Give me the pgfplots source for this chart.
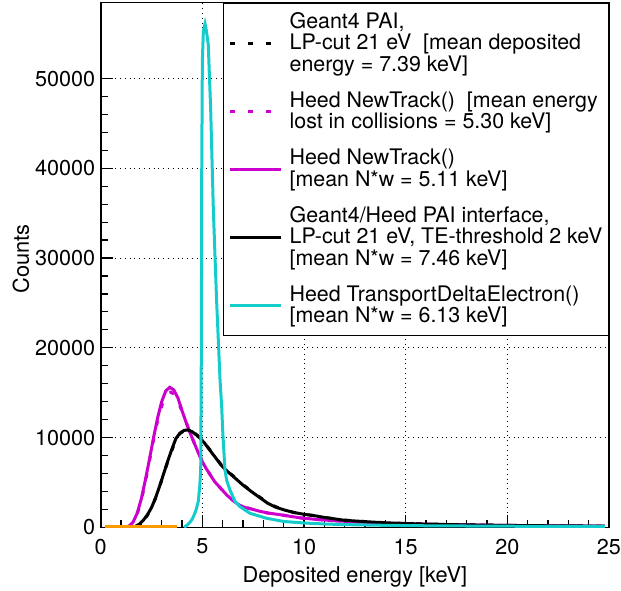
\documentclass[border=0pt]{standalone}
\usepackage{pgfplots}
\pgfplotsset{compat=1.18}
\usepackage{fontspec}
\setmainfont{TeX Gyre Heros}
\definecolor{mag}{RGB}{204,0,204}
\definecolor{cyn}{RGB}{20,204,204}
\definecolor{org}{RGB}{255,153,0}
\begin{document}
\fontsize{10.6}{11}\selectfont
\begin{tikzpicture}
\begin{axis}[
  scale only axis,
  width=254.15pt, height=262.3pt,
  xmin=0, xmax=25, ymin=0, ymax=58450,
  xtick={0,5,10,15,20,25},
  minor x tick num=4,
  ytick={0,10000,20000,30000,40000,50000},
  minor y tick num=4,
  tick align=inside,
  tick pos=left,
  major tick length=6pt,
  minor tick length=3.5pt,
  every tick/.style={black, line width=0.6pt},
  axis line style={line width=0.8pt},
  grid=major,
  major grid style={black, dotted, line width=0.5pt},
  /pgf/number format/assume math mode=true,
  /pgf/number format/1000 sep={},
  scaled y ticks=false,
  xticklabel style={font=\fontsize{10.8}{11}\selectfont, yshift=-2pt},
  yticklabel style={font=\fontsize{10.8}{11}\selectfont, xshift=1pt},
  xlabel={Deposited energy [keV]},
  ylabel={Counts},
  xlabel style={font=\fontsize{10.9}{12}\selectfont, at={(axis description cs:0.5,-0.0953)}, anchor=center},
  ylabel style={font=\fontsize{10.9}{12}\selectfont, at={(axis description cs:-0.157,0.512)}, anchor=center, rotate=0},
  legend style={at={(rel axis cs:1,1)}, anchor=north east, draw=black, line width=0.5pt, fill=white,
    font=\fontsize{10.7}{10.8}\selectfont, inner xsep=2.5pt, inner ysep=4pt,
    row sep=7.5pt, column sep=3pt,
    nodes={align=left, inner sep=0.5pt}},
  legend cell align=left,
  every legend entry/.append style={text width=160pt},
  legend image code/.code={\draw[#1] (0pt,0pt) -- (25.5pt,0pt);},
  clip=true,
]
% Geant4 PAI (black dashed)
\addplot[black, line width=1.5pt, dash pattern=on 2.5pt off 6.5pt] coordinates {
(1.5,0) (1.7,90) (1.9,330) (2.1,760) (2.3,1350) (2.5,2150) (2.7,3250) (2.9,4550)
(3.1,5950) (3.3,7350) (3.5,8550) (3.7,9850) (3.9,10450) (4.1,10750) (4.3,10800)
(4.5,10700) (4.7,10350) (4.9,9950) (5.1,9450) (5.3,8850) (5.5,8250) (5.7,7650)
(5.9,7050) (6.1,6550) (6.4,5950) (6.7,5350) (7.0,4750) (7.4,4050) (7.8,3400)
(8.2,2750) (8.6,2300) (9.0,1950) (9.5,1650) (10.0,1450) (10.5,1300) (11,1100)
(12,800) (13,640) (14,510) (15,430) (16,370) (17,320) (18,280) (20,215) (22,170) (24.8,130)};
\addlegendentry{Geant4 PAI,\\LP-cut 21 eV\ \ [mean deposited\\energy = 7.39 keV]}
% Heed NewTrack energy lost (magenta dashed)
\addplot[mag, line width=1.5pt, dash pattern=on 2.5pt off 6.5pt] coordinates {
(1.3,0) (1.5,250) (1.7,900) (1.9,2200) (2.1,4000) (2.3,6200) (2.5,8600) (2.7,10900)
(2.9,12800) (3.1,14200) (3.3,14900) (3.45,15050) (3.6,14850) (3.8,14100) (4.0,12900)
(4.2,11700) (4.4,10500) (4.6,9400) (4.8,8350) (5.0,7400) (5.2,6550) (5.4,5800)
(5.6,5100) (5.8,4600) (6.0,4100) (6.2,3600) (6.5,3000) (6.8,2550) (7.1,2250)
(7.4,2050) (7.8,1800) (8.2,1600) (9.0,1330) (9.8,1050) (10.6,880) (11.4,750)
(12.3,630) (13,550) (14,450) (15,380) (16,330) (18,260) (20,210) (22,170) (24.8,130)};
\addlegendentry{Heed NewTrack()\ \ [mean energy\\lost in collisions = 5.30 keV]}
% Heed NewTrack N*w (magenta solid)
\addplot[mag, line width=1.5pt] coordinates {
(1.2,0) (1.4,150) (1.6,600) (1.8,1600) (2.0,3200) (2.2,5300) (2.4,7600) (2.6,10000)
(2.8,12200) (3.0,14000) (3.2,15200) (3.4,15600) (3.6,15300) (3.8,14400) (4.0,13000)
(4.2,11700) (4.4,10500) (4.6,9400) (4.8,8300) (5.0,7300) (5.2,6500) (5.4,5800)
(5.6,5100) (5.8,4600) (6.0,4100) (6.2,3600) (6.5,3000) (6.8,2500) (7.1,2200)
(7.4,2050) (7.8,1800) (8.2,1600) (9.0,1350) (9.8,1050) (10.6,880) (11.4,750)
(12.3,630) (13,550) (14,450) (15,380) (16,330) (18,260) (20,210) (22,170) (24.8,130)};
\addlegendentry{Heed NewTrack()\\{[mean N*w = 5.11 keV]}}
% Geant4/Heed PAI interface (black solid)
\addplot[black, line width=1.5pt] coordinates {
(1.5,0) (1.7,100) (1.9,350) (2.1,800) (2.3,1400) (2.5,2200) (2.7,3300) (2.9,4600)
(3.1,6000) (3.3,7400) (3.5,8700) (3.7,9900) (3.9,10500) (4.1,10800) (4.3,10850)
(4.5,10650) (4.7,10300) (4.9,9900) (5.1,9400) (5.3,8800) (5.5,8200) (5.7,7600)
(5.9,7000) (6.1,6500) (6.4,5900) (6.7,5300) (7.0,4700) (7.4,4000) (7.8,3350)
(8.2,2700) (8.6,2250) (9.0,1950) (9.5,1650) (10.0,1450) (10.5,1300) (11,1100)
(12,780) (13,630) (14,500) (15,420) (16,360) (17,310) (18,270) (20,210) (22,170) (24.8,130)};
\addlegendentry{Geant4/Heed PAI interface,\\LP-cut 21 eV, TE-threshold 2 keV\\{[mean N*w = 7.46 keV]}}
% Heed TransportDeltaElectron (cyan)
\addplot[cyn, line width=1.5pt] coordinates {
(4.1,0) (4.2,150) (4.3,350) (4.4,600) (4.5,900) (4.6,1400) (4.7,2000) (4.8,2900)
(4.87,4500) (4.92,6500) (4.95,20000) (4.97,40000) (5.0,52000) (5.05,55300)
(5.13,56100) (5.2,55300) (5.29,53800) (5.41,46500) (5.54,35400) (5.7,25300)
(5.87,16400) (5.95,13500) (6.0,10800) (6.11,6400) (6.2,5200) (6.36,4150)
(6.6,2900) (6.85,2300) (7.34,1560) (8.17,1000) (9,650) (10,480) (11,370)
(12,300) (14,220) (16,170) (20,120) (24.8,90)};
\addlegendentry{Heed TransportDeltaElectron()\\{[mean N*w = 6.13 keV]}}
% orange (empty histogram)
\addplot[org, line width=2pt, forget plot] coordinates {(0.21,0) (3.74,0)};
\end{axis}
\pgfresetboundingbox
\useasboundingbox ([shift={(-50.35pt,-31.35pt)}]current axis.south west) rectangle ([shift={(6pt,1.35pt)}]current axis.north east);
\end{tikzpicture}
\end{document}
